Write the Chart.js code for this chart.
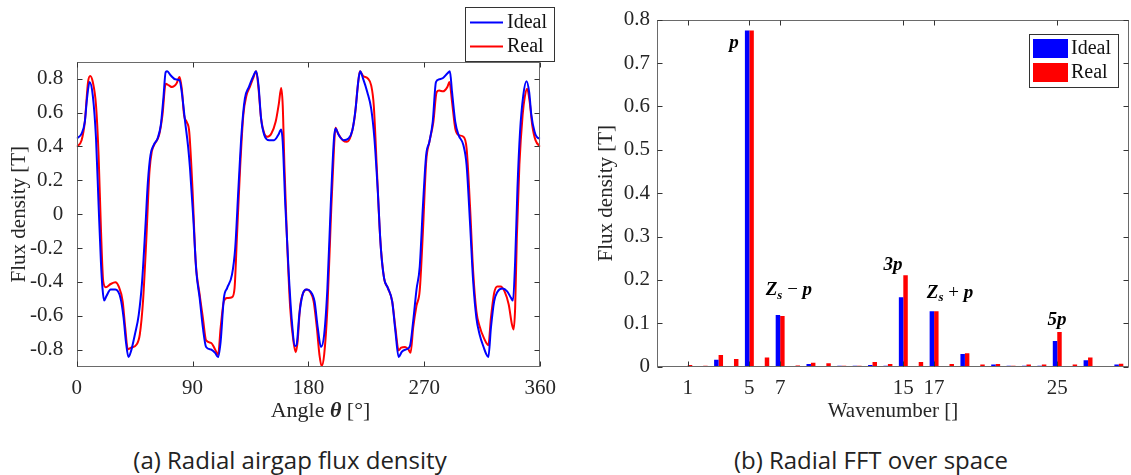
<!DOCTYPE html>
<html>
<head>
<meta charset="utf-8">
<script src="https://cdn.jsdelivr.net/npm/chart.js@4.4.1/dist/chart.umd.min.js"></script>
<style>
  body { margin: 0; background: #fff; width: 1131px; height: 475px; position: relative; overflow: hidden; }
  canvas { position: absolute; top: 0; }
  #left { left: 0; }
  #right { left: 580px; }
  .caption { position: absolute; top: 443px; font-family: "Open Sans", sans-serif; font-size: 24px; color: #222; transform: translateX(-50%); white-space: nowrap; }
</style>
</head>
<body>
<canvas id="left" width="565" height="430"></canvas>
<canvas id="right" width="551" height="430"></canvas>
<div class="caption" style="left:290px">(a) Radial airgap flux density</div>
<div class="caption" style="left:871px">(b) Radial FFT over space</div>
<script>
// --- DONNEES : induction radiale dans l'entrefer ---
const idealAngle = [0, 3.8, 6.3, 8, 10, 12.5, 15, 17, 18.8, 20, 21.3, 23, 26.4, 30, 34, 36.4, 38.2, 40.2, 42.2, 45.2, 48.2, 50.8, 53.3, 55.3, 57.3, 59.8, 62.8, 65.3, 67.3, 69.1, 70.3, 72.9, 76.6, 79.9, 81.6, 84.2, 86.5, 88, 90.4, 92.9, 95.5, 98, 100.5, 104.3, 107.5, 109.8, 111.8, 114.3, 116.8, 120.6, 123.1, 125.6, 128.1, 130.6, 133.7, 136.9, 139.4, 141.2, 143.2, 145.7, 149.5, 153.3, 156.5, 158.8, 160, 162, 164.6, 167.1, 169.6, 170.8, 172.9, 175.4, 178.4, 181.4, 184.7, 187.2, 189.7, 192.2, 194.7, 197.3, 199.8, 201, 203.5, 207.3, 211.1, 214.1, 216.6, 218.6, 220.1, 222.4, 225.7, 228.7, 231.2, 233.7, 236.2, 238.7, 241.7, 245, 247.5, 250, 252.5, 255.8, 258.8, 261.3, 263.9, 266.4, 268.9, 271.4, 273.9, 276.5, 279, 281.5, 284.5, 287.8, 289.8, 291.5, 294, 296.6, 300.3, 302.8, 305.4, 307.9, 310.4, 312.9, 316.2, 317.9, 319.7, 321.7, 324.2, 326.7, 330.5, 334.3, 337.3, 338.8, 340.5, 342.3, 344.3, 346.8, 349.3, 351.4, 353.1, 355.6, 358.1, 360];
const idealFlux = [0.447, 0.476, 0.545, 0.682, 0.78, 0.70, 0.447, 0.055, -0.28, -0.435, -0.51, -0.484, -0.445, -0.445, -0.494, -0.61, -0.75, -0.843, -0.808, -0.71, -0.592, -0.396, -0.082, 0.192, 0.349, 0.408, 0.447, 0.525, 0.682, 0.839, 0.843, 0.82, 0.796, 0.79, 0.72, 0.545, 0.40, 0.27, -0.004, -0.338, -0.495, -0.67, -0.784, -0.798, -0.818, -0.843, -0.75, -0.495, -0.436, -0.357, -0.2, 0.153, 0.486, 0.682, 0.75, 0.81, 0.843, 0.76, 0.564, 0.467, 0.437, 0.437, 0.467, 0.5, 0.427, 0.055, -0.338, -0.632, -0.778, -0.769, -0.592, -0.475, -0.445, -0.455, -0.514, -0.67, -0.784, -0.71, -0.436, 0.055, 0.447, 0.506, 0.467, 0.437, 0.447, 0.496, 0.623, 0.78, 0.843, 0.80, 0.72, 0.623, 0.447, 0.153, -0.2, -0.377, -0.436, -0.514, -0.69, -0.843, -0.812, -0.798, -0.778, -0.632, -0.445, -0.31, 0.05, 0.349, 0.427, 0.545, 0.78, 0.796, 0.804, 0.83, 0.843, 0.72, 0.545, 0.467, 0.408, 0.29, -0.043, -0.396, -0.612, -0.71, -0.788, -0.823, -0.843, -0.67, -0.514, -0.459, -0.439, -0.455, -0.494, -0.51, -0.28, 0.153, 0.486, 0.70, 0.784, 0.72, 0.584, 0.486, 0.45, 0.447];

const realAngle = [0, 3.8, 6.3, 8.8, 10.5, 12.5, 15, 17, 18.8, 20.6, 22.6, 26.4, 30, 32.6, 35.7, 37.7, 39.7, 42.2, 46.5, 49, 51.5, 54, 56.5, 58.3, 60.8, 64, 66.6, 69.1, 71.6, 74, 77.4, 79.9, 81.6, 83.4, 85.4, 87.4, 89.9, 92.4, 95.5, 98, 100.5, 104.3, 107.5, 109.8, 111.8, 114.3, 116.8, 120.6, 122.6, 124.4, 126.9, 129.4, 131.9, 134.4, 136.9, 139.4, 141.2, 143.2, 145.7, 148.2, 151.2, 154.5, 157, 158.8, 160, 161.3, 163.3, 165.8, 168.3, 170.1, 171.6, 173.4, 175.9, 178.9, 181.4, 184, 186.5, 188.5, 190.2, 192.2, 194.7, 197.3, 199.8, 201, 203, 206.6, 209.8, 213.1, 216.1, 218.1, 219.9, 222.4, 226.2, 228.7, 230.7, 233.2, 235.7, 238.7, 241.7, 245, 247.5, 250, 252, 255, 257.6, 259.3, 261.3, 263.9, 266.4, 268.9, 271.4, 273.9, 277, 279.5, 281.5, 284.5, 287.8, 289.5, 291.5, 294, 296.6, 300.3, 302.8, 305.4, 307.9, 310.4, 312.9, 316.2, 319.7, 321.7, 324.2, 326.7, 329.2, 332.3, 335.5, 338, 339.3, 340.5, 341.8, 343.8, 346.3, 348, 349.8, 351.8, 353.8, 356.3, 360];
const realFlux = [0.398, 0.437, 0.545, 0.78, 0.816, 0.78, 0.643, 0.349, -0.082, -0.396, -0.431, -0.412, -0.402, -0.426, -0.514, -0.671, -0.798, -0.788, -0.769, -0.71, -0.514, -0.16, 0.251, 0.369, 0.418, 0.467, 0.584, 0.77, 0.76, 0.75, 0.77, 0.81, 0.741, 0.584, 0.545, 0.486, 0.153, -0.28, -0.475, -0.612, -0.745, -0.759, -0.798, -0.83, -0.67, -0.514, -0.495, -0.49, -0.436, -0.141, 0.27, 0.584, 0.702, 0.75, 0.80, 0.843, 0.741, 0.564, 0.476, 0.457, 0.476, 0.545, 0.653, 0.745, 0.643, 0.29, -0.141, -0.553, -0.749, -0.814, -0.749, -0.553, -0.465, -0.445, -0.459, -0.514, -0.67, -0.828, -0.896, -0.828, -0.553, -0.043, 0.388, 0.51, 0.476, 0.437, 0.427, 0.467, 0.584, 0.741, 0.843, 0.816, 0.80, 0.76, 0.643, 0.251, -0.141, -0.377, -0.436, -0.514, -0.67, -0.804, -0.788, -0.784, -0.798, -0.818, -0.67, -0.54, -0.45, -0.1, 0.31, 0.427, 0.545, 0.72, 0.73, 0.725, 0.75, 0.78, 0.663, 0.506, 0.467, 0.457, 0.388, 0.055, -0.338, -0.573, -0.661, -0.73, -0.773, -0.612, -0.465, -0.426, -0.426, -0.455, -0.533, -0.65, -0.68, -0.553, -0.141, 0.29, 0.584, 0.692, 0.741, 0.663, 0.525, 0.437, 0.398];

const angleTicks = [0, 90, 180, 270, 360];
const fluxTicks = [-0.8, -0.6, -0.4, -0.2, 0, 0.2, 0.4, 0.6, 0.8];

// --- DONNEES : FFT spatiale ---
const wavenumbers = [0, 1, 2, 3, 4, 5, 6, 7, 8, 9, 10, 11, 12, 13, 14, 15, 16, 17, 18, 19, 20, 21, 22, 23, 24, 25, 26, 27, 28, 29];
const idealFFT = [0.001, 0.001, 0.001, 0.016, 0.001, 0.775, 0.001, 0.119, 0.001, 0.006, 0.001, 0.002, 0.002, 0.004, 0.002, 0.160, 0.001, 0.128, 0.001, 0.029, 0.001, 0.005, 0.002, 0.002, 0.002, 0.059, 0.001, 0.015, 0.001, 0.005];
const realFFT = [0.001, 0.004, 0.002, 0.027, 0.018, 0.775, 0.021, 0.117, 0.003, 0.009, 0.008, 0.002, 0.002, 0.011, 0.006, 0.211, 0.011, 0.128, 0.006, 0.031, 0.005, 0.006, 0.002, 0.005, 0.005, 0.080, 0.005, 0.021, 0.001, 0.007];
const waveTicks = [1, 5, 7, 15, 17, 25];
const fftTicks = [0, 0.1, 0.2, 0.3, 0.4, 0.5, 0.6, 0.7, 0.8];

// étiquettes des harmoniques (x = rang, y = valeur)
const harmonicLabels = [
  { x: 4.0, y: 0.747, parts: [['p', 'math']] },
  { x: 7.57, y: 0.176, parts: [['Z', 'math'], ['s', 'sub'], [' \u2212 ', 'op'], ['p', 'math']] },
  { x: 14.33, y: 0.234, parts: [['3', 'math'], ['p', 'math']] },
  { x: 18.03, y: 0.170, parts: [['Z', 'math'], ['s', 'sub'], [' + ', 'op'], ['p', 'math']] },
  { x: 24.98, y: 0.107, parts: [['5', 'math'], ['p', 'math']] }
];

// --- STYLE ---
const SERIF = '"Liberation Serif", "Times New Roman", serif';
const TXT = '#262626';
const AXIS = '#6a6a6a';
const BLUE = '#0000ff';
const RED = '#ff0000';
const partFonts = {
  norm: `22px ${SERIF}`,
  theta: `bold italic 22px ${SERIF}`,
  math: `bold italic 19px ${SERIF}`,
  sub: `bold italic 13px ${SERIF}`,
  op: `19px ${SERIF}`
};

Chart.defaults.font.family = SERIF;
Chart.defaults.font.size = 21;
Chart.defaults.color = TXT;

function drawParts(ctx, parts, cx, cy) {
  // mesure puis dessin centré
  let w = 0;
  parts.forEach(([t, f]) => { ctx.font = partFonts[f]; w += ctx.measureText(t).width; });
  let x = cx - w / 2;
  ctx.textBaseline = 'middle';
  ctx.textAlign = 'left';
  parts.forEach(([t, f]) => {
    ctx.font = partFonts[f];
    ctx.fillText(t, x, f === 'sub' ? cy + 5 : cy);
    x += ctx.measureText(t).width;
  });
}

// cadre + graduations intérieures (style MATLAB)
const boxPlugin = {
  id: 'box',
  afterDraw(chart) {
    const { ctx, chartArea: a, scales: { x, y } } = chart;
    const L = Math.round(a.left) + 0.5, R = Math.round(a.right) - 0.5;
    const T = Math.round(a.top) + 0.5, B = Math.round(a.bottom) - 0.5;
    ctx.save();
    ctx.strokeStyle = AXIS;
    ctx.lineWidth = 1;
    ctx.strokeRect(L, T, R - L, B - T);
    ctx.strokeStyle = '#333';
    ctx.beginPath();
    x.ticks.forEach(t => {
      const px = Math.round(x.getPixelForValue(t.value)) + 0.5;
      ctx.moveTo(px, B); ctx.lineTo(px, B - 5);
      ctx.moveTo(px, T); ctx.lineTo(px, T + 5);
    });
    y.ticks.forEach(t => {
      const py = Math.round(y.getPixelForValue(t.value)) + 0.5;
      ctx.moveTo(L, py); ctx.lineTo(L + 5, py);
      ctx.moveTo(R, py); ctx.lineTo(R - 5, py);
    });
    ctx.stroke();
    ctx.restore();
  }
};

// légende encadrée
const legendBoxPlugin = {
  id: 'legendBox',
  afterDraw(chart, args, opts) {
    const { ctx } = chart;
    const b = opts.box;
    ctx.save();
    ctx.fillStyle = '#fff';
    ctx.fillRect(b.x, b.y, b.w, b.h);
    ctx.strokeStyle = '#333';
    ctx.lineWidth = 1;
    ctx.strokeRect(b.x + 0.5, b.y + 0.5, b.w, b.h);
    ctx.font = `20px ${SERIF}`;
    ctx.textBaseline = 'middle';
    chart.data.datasets.forEach((ds, i) => {
      const cy = b.y + opts.rowY[i];
      ctx.fillStyle = ds.borderColor;
      ctx.strokeStyle = ds.borderColor;
      if (opts.kind === 'line') {
        ctx.lineWidth = 2;
        ctx.beginPath();
        ctx.moveTo(b.x + 5, cy); ctx.lineTo(b.x + 38, cy);
        ctx.stroke();
      } else {
        ctx.fillRect(b.x + 4, cy - 9.5, 35, 19);
      }
      ctx.fillStyle = '#111';
      ctx.fillText(ds.label, b.x + opts.textX, cy);
    });
    ctx.restore();
  }
};

// titre de l'axe des angles (θ en gras italique)
const angleTitlePlugin = {
  id: 'angleTitle',
  afterDraw(chart) {
    const { ctx, chartArea: a } = chart;
    ctx.save();
    ctx.fillStyle = TXT;
    drawParts(ctx, [['Angle ', 'norm'], ['\u03B8', 'theta'], [' [\u00B0]', 'norm']], (a.left + a.right) / 2 + 12, 411);
    ctx.restore();
  }
};

const harmonicPlugin = {
  id: 'harmonics',
  afterDatasetsDraw(chart) {
    const { ctx, scales: { x, y } } = chart;
    ctx.save();
    ctx.fillStyle = '#000';
    harmonicLabels.forEach(l => drawParts(ctx, l.parts, x.getPixelForValue(l.x), y.getPixelForValue(l.y)));
    ctx.restore();
  }
};

const fixTicks = vals => scale => { scale.ticks = vals.map(v => ({ value: v })); };
const fmt = v => (Math.abs(v) < 1e-9 ? '0' : (+v).toFixed(1));
const noGrid = { display: false, drawTicks: false };

// --- GRAPHE (a) ---
new Chart(document.getElementById('left'), {
  type: 'line',
  data: {
    datasets: [
      { label: 'Ideal', data: idealAngle.map((a, i) => ({ x: a, y: idealFlux[i] })), borderColor: BLUE, borderWidth: 2, pointRadius: 0, cubicInterpolationMode: 'monotone' },
      { label: 'Real', data: realAngle.map((a, i) => ({ x: a, y: realFlux[i] })), borderColor: RED, borderWidth: 2, pointRadius: 0, cubicInterpolationMode: 'monotone' }
    ]
  },
  options: {
    responsive: false,
    animation: false,
    devicePixelRatio: 1,
    layout: { padding: { top: 61.7, right: 11, left: 0, bottom: 0 } },
    plugins: {
      legend: { display: false },
      tooltip: { enabled: false },
      legendBox: { kind: 'line', box: { x: 465, y: 7, w: 89, h: 54 }, rowY: [15.5, 39.5], textX: 42 }
    },
    scales: {
      x: {
        type: 'linear', min: 0, max: 360,
        afterBuildTicks: fixTicks(angleTicks),
        afterFit: s => { s.height = 63.3; },
        grid: noGrid, border: { display: false },
        ticks: { padding: 9, maxRotation: 0, autoSkip: false, color: TXT }
      },
      y: {
        min: -0.9, max: 0.9,
        afterBuildTicks: fixTicks(fluxTicks),
        afterFit: s => { s.width = 76.7; },
        grid: noGrid, border: { display: false },
        ticks: { padding: 13.4, callback: fmt, color: TXT },
        title: { display: true, text: 'Flux density [T]', padding: { top: 7, bottom: 0 }, color: TXT }
      }
    }
  },
  plugins: [boxPlugin, legendBoxPlugin, angleTitlePlugin]
});

// --- GRAPHE (b) ---
new Chart(document.getElementById('right'), {
  type: 'bar',
  data: {
    datasets: [
      { label: 'Ideal', data: wavenumbers.map((k, i) => ({ x: k, y: idealFFT[i] })), backgroundColor: BLUE, borderColor: BLUE, borderWidth: 0 },
      { label: 'Real', data: wavenumbers.map((k, i) => ({ x: k, y: realFFT[i] })), backgroundColor: RED, borderColor: RED, borderWidth: 0 }
    ]
  },
  options: {
    responsive: false,
    animation: false,
    devicePixelRatio: 1,
    categoryPercentage: 0.58,
    barPercentage: 1,
    layout: { padding: { top: 19, right: 2, left: 0, bottom: 0 } },
    plugins: {
      legend: { display: false },
      tooltip: { enabled: false },
      legendBox: { kind: 'bar', box: { x: 449, y: 34, w: 89, h: 53 }, rowY: [14.5, 38.5], textX: 42 }
    },
    scales: {
      x: {
        type: 'linear', min: -1, max: 29.66, offset: false,
        afterBuildTicks: fixTicks(waveTicks),
        afterFit: s => { s.height = 63.3; },
        grid: noGrid, border: { display: false },
        ticks: { padding: 9, maxRotation: 0, autoSkip: false, color: TXT },
        title: { display: true, text: 'Wavenumber []', padding: { top: 0, bottom: 6.4 }, color: TXT }
      },
      y: {
        min: 0, max: 0.8,
        afterBuildTicks: fixTicks(fftTicks),
        afterFit: s => { s.width = 77; },
        grid: noGrid, border: { display: false },
        ticks: { padding: 7, callback: fmt, color: TXT },
        title: { display: true, text: 'Flux density [T]', padding: { top: 14, bottom: 0 }, color: TXT }
      }
    }
  },
  plugins: [boxPlugin, harmonicPlugin, legendBoxPlugin]
});
</script>
</body>
</html>
